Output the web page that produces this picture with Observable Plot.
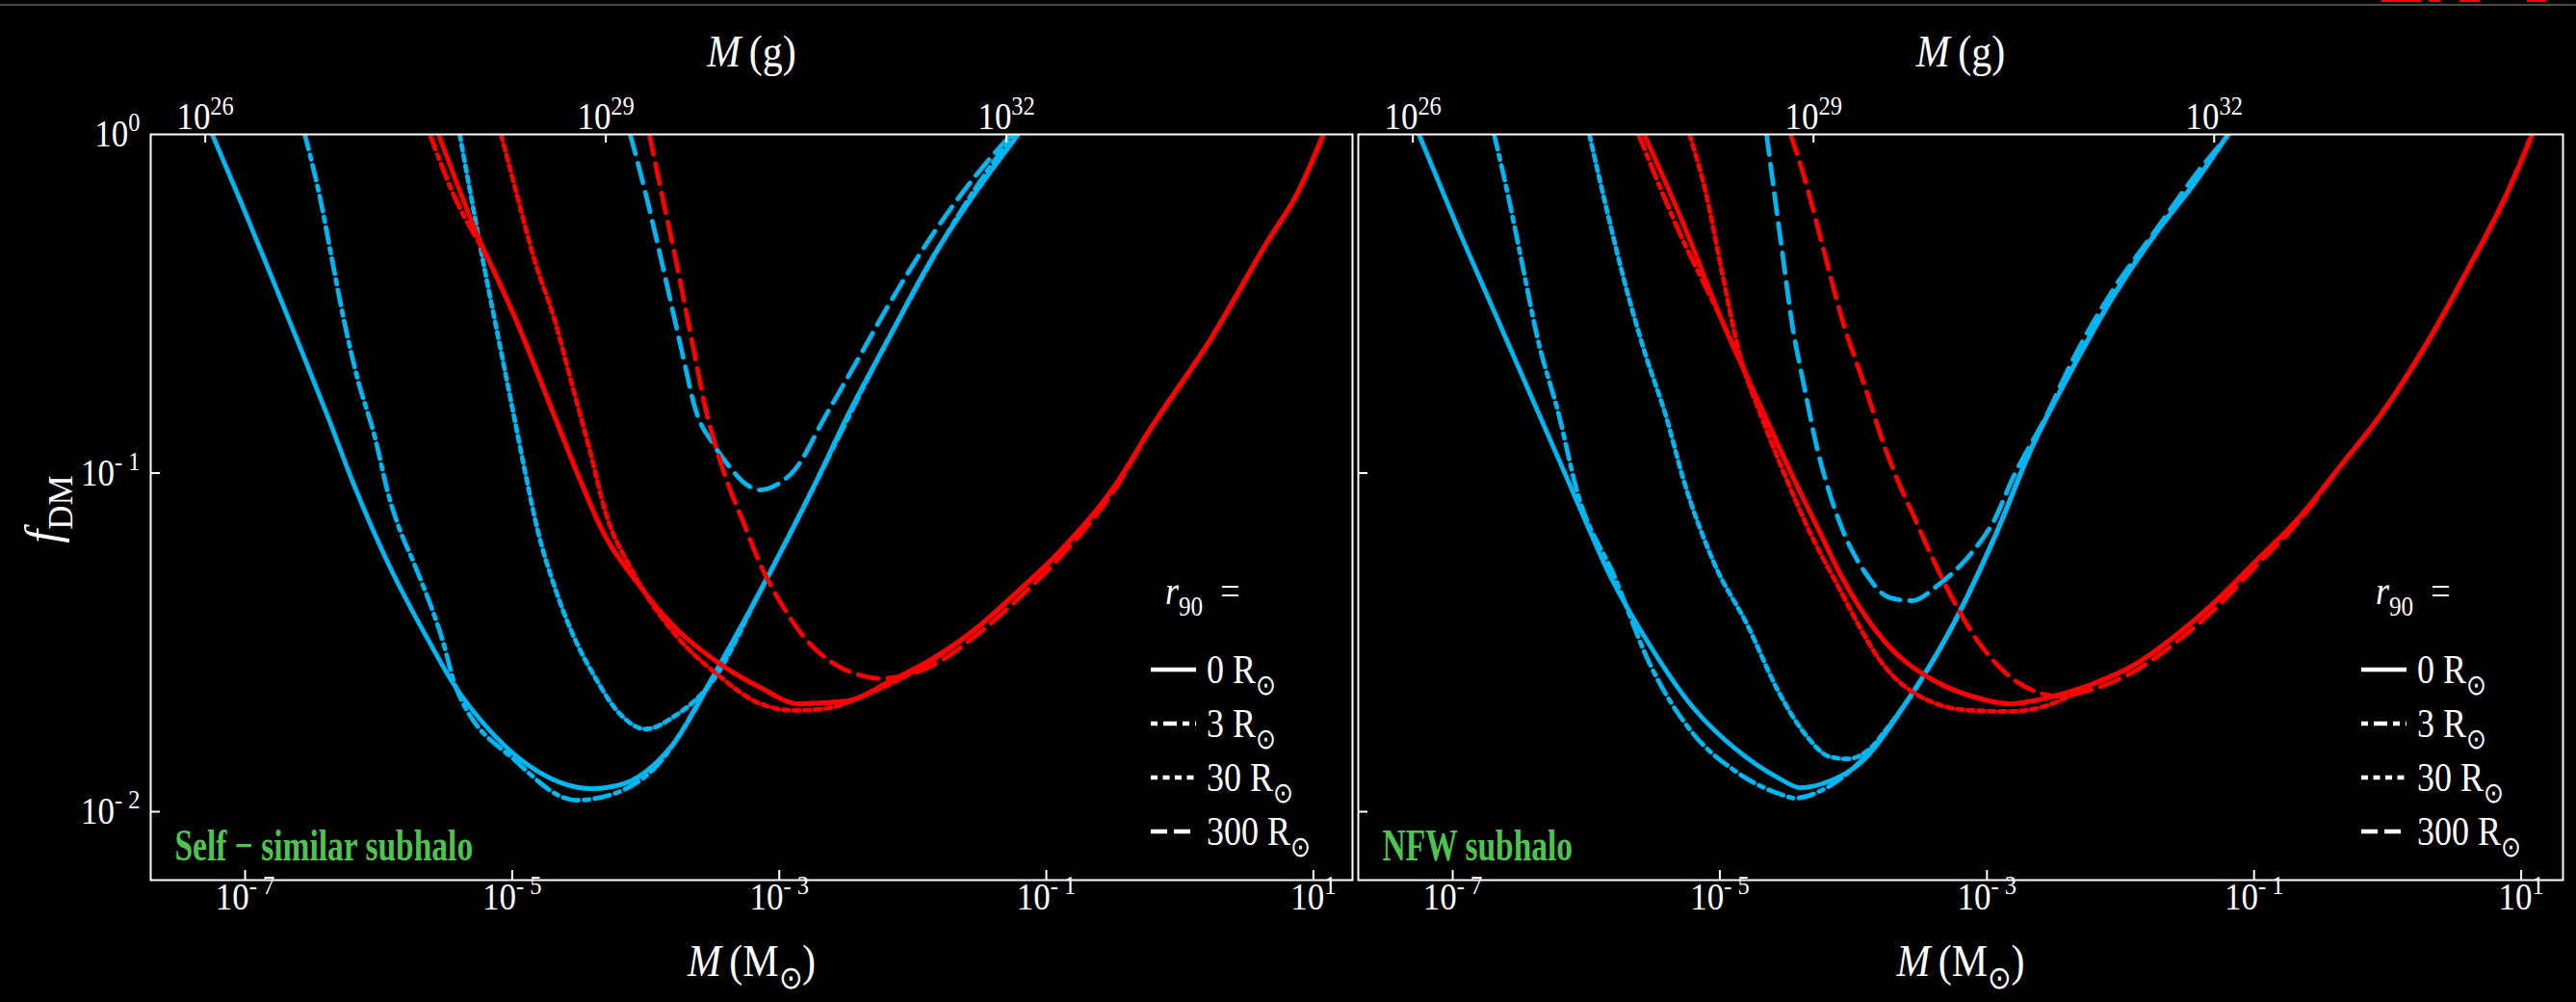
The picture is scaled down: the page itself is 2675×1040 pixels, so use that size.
<!DOCTYPE html>
<html><head><meta charset="utf-8">
<script src="https://cdn.jsdelivr.net/npm/d3@7"></script>
<script src="https://cdn.jsdelivr.net/npm/@observablehq/plot@0.6"></script>
<style>
html,body{margin:0;padding:0;background:#000;}
#wrap{position:relative;width:2675px;height:1040px;overflow:hidden;background:#000;}
#topline{position:absolute;left:0;top:4px;width:2675px;height:2px;background:#4a4a4a;}
.frag{position:absolute;top:0;height:2px;background:#ff0000;}
.panel{position:absolute;top:0;}
.panel svg{overflow:visible;}
</style></head>
<body><div id="wrap"><div id="topline"></div>
<div class="frag" style="left:2473px;width:41px"></div>
<div class="frag" style="left:2522px;width:12px"></div>
<div class="frag" style="left:2554px;width:21px"></div>
<div class="frag" style="left:2624px;width:20px"></div>
</div>
<script>
// ---------------- data (log10 M [Msun], log10 f_DM) ----------------
const MSUN_G = 1.989e33;
const xTicks = [1e-7, 1e-5, 1e-3, 1e-1, 1e1];
const xTickLabels = ["10^{- 7}", "10^{- 5}", "10^{- 3}", "10^{- 1}", "10^{1}"];
const gTicks = [1e26, 1e29, 1e32];
const gTickLabels = ["10^{26}", "10^{29}", "10^{32}"];
const yTicks = [1, 0.1, 0.01];
const yTickLabels = ["10^{0}", "10^{- 1}", "10^{- 2}"];
const rLabels = ["0", "3", "30", "300"];
const panelLabels = ["Self − similar subhalo", "NFW subhalo"];

// Self-similar subhalo
const ss_blue_0 = [[-7.246,0],[-7.029,-0.202],[-6.813,-0.410],[-6.597,-0.620],[-6.380,-0.834],[-6.193,-1.027],[-5.933,-1.263],[-5.616,-1.502],[-5.450,-1.616],[-5.133,-1.775],[-4.809,-1.881],[-4.405,-1.932],[-4.167,-1.918],[-3.936,-1.861],[-3.785,-1.795],[-3.460,-1.576],[-3.143,-1.349],[-2.725,-1.027],[-2.494,-0.836],[-2.177,-0.600],[-1.852,-0.364],[-1.535,-0.174],[-1.211,0]];
const ss_blue_3 = [[-6.553,0],[-6.431,-0.202],[-6.352,-0.364],[-6.258,-0.552],[-6.157,-0.723],[-6.034,-0.885],[-5.919,-1.075],[-5.840,-1.169],[-5.739,-1.263],[-5.515,-1.502],[-5.422,-1.633],[-4.967,-1.852],[-4.520,-1.966],[-4.232,-1.946],[-3.936,-1.872],[-3.460,-1.576],[-3.143,-1.349],[-2.725,-1.027],[-2.177,-0.600],[-1.535,-0.162],[-1.247,0]];
const ss_blue_30 = [[-5.393,0],[-5.299,-0.202],[-5.205,-0.401],[-5.104,-0.600],[-5.003,-0.799],[-4.902,-0.999],[-4.809,-1.169],[-4.679,-1.340],[-4.549,-1.474],[-4.390,-1.596],[-4.196,-1.710],[-4.001,-1.756],[-3.785,-1.718],[-3.496,-1.612],[-3.143,-1.349],[-2.725,-1.027],[-2.494,-0.836],[-2.177,-0.600],[-1.852,-0.364],[-1.535,-0.174],[-1.211,0]];
const ss_blue_300 = [[-4.116,0],[-4.001,-0.174],[-3.907,-0.330],[-3.785,-0.543],[-3.720,-0.657],[-3.626,-0.814],[-3.496,-0.913],[-3.395,-0.970],[-3.237,-1.036],[-3.143,-1.050],[-3.013,-1.033],[-2.883,-0.990],[-2.660,-0.836],[-2.429,-0.677],[-2.177,-0.501],[-1.852,-0.296],[-1.535,-0.125],[-1.261,0]];
const ss_red_0 = [[-5.551,0],[-5.292,-0.267],[-4.967,-0.552],[-4.679,-0.836],[-4.484,-1.027],[-4.326,-1.169],[-4.059,-1.326],[-3.785,-1.454],[-3.460,-1.559],[-3.143,-1.633],[-2.855,-1.681],[-2.494,-1.673],[-2.177,-1.616],[-1.852,-1.548],[-1.535,-1.462],[-1.211,-1.349],[-0.886,-1.226],[-0.468,-1.027],[-0.245,-0.885],[0.238,-0.600],[0.657,-0.316],[0.880,-0.174],[1.075,0]];
const ss_red_3 = [[-5.616,0],[-5.443,-0.174],[-5.133,-0.406],[-4.967,-0.552],[-4.679,-0.836],[-4.484,-1.027],[-4.326,-1.169],[-4.059,-1.326],[-3.785,-1.454],[-3.460,-1.559],[-3.143,-1.633],[-2.855,-1.681],[-2.494,-1.673],[-2.177,-1.616],[-1.852,-1.548],[-1.535,-1.462],[-1.211,-1.349],[-0.886,-1.226],[-0.468,-1.027],[-0.245,-0.885],[0.238,-0.600],[0.657,-0.316],[0.880,-0.174],[1.075,0]];
const ss_red_30 = [[-5.083,0],[-4.967,-0.174],[-4.838,-0.364],[-4.679,-0.552],[-4.549,-0.743],[-4.419,-0.933],[-4.297,-1.121],[-4.109,-1.283],[-3.785,-1.474],[-3.460,-1.596],[-3.143,-1.681],[-2.883,-1.701],[-2.660,-1.696],[-2.343,-1.653],[-1.852,-1.553],[-1.535,-1.462],[-1.211,-1.349],[-0.886,-1.226],[-0.468,-1.027],[-0.245,-0.885],[0.238,-0.600],[0.657,-0.316],[0.880,-0.174],[1.075,0]];
const ss_red_300 = [[-3.972,0],[-3.907,-0.125],[-3.842,-0.245],[-3.785,-0.350],[-3.713,-0.492],[-3.641,-0.634],[-3.561,-0.794],[-3.460,-0.942],[-3.367,-1.050],[-3.273,-1.141],[-3.143,-1.269],[-2.977,-1.391],[-2.819,-1.482],[-2.595,-1.562],[-2.400,-1.596],[-2.242,-1.607],[-2.112,-1.602],[-1.852,-1.568],[-1.535,-1.482],[-1.211,-1.371],[-0.886,-1.243],[-0.468,-1.036],[-0.245,-0.885],[0.238,-0.600],[0.657,-0.316],[0.880,-0.174],[1.075,0]];

// NFW subhalo
const nfw_blue_0 = [[-7.253,0],[-6.972,-0.267],[-6.654,-0.555],[-6.330,-0.848],[-6.157,-1.004],[-6.013,-1.135],[-5.847,-1.283],[-5.530,-1.505],[-5.205,-1.690],[-4.881,-1.815],[-4.563,-1.900],[-4.398,-1.929],[-4.239,-1.918],[-3.915,-1.844],[-3.597,-1.673],[-3.273,-1.462],[-2.927,-1.175],[-2.674,-0.933],[-2.364,-0.694],[-2.054,-0.478],[-1.744,-0.296],[-1.434,-0.137],[-1.196,0]];
const nfw_blue_3 = [[-6.690,0],[-6.589,-0.174],[-6.489,-0.364],[-6.366,-0.600],[-6.200,-0.836],[-6.078,-1.041],[-5.782,-1.312],[-5.530,-1.559],[-5.205,-1.767],[-4.881,-1.881],[-4.563,-1.946],[-4.434,-1.960],[-4.239,-1.937],[-3.915,-1.838],[-3.597,-1.673],[-3.273,-1.462],[-2.927,-1.175],[-2.674,-0.933],[-2.364,-0.694],[-2.054,-0.478],[-1.744,-0.296],[-1.434,-0.137],[-1.196,0]];
const nfw_blue_30 = [[-5.977,0],[-5.847,-0.222],[-5.717,-0.430],[-5.558,-0.649],[-5.400,-0.836],[-5.277,-1.013],[-5.046,-1.263],[-4.787,-1.454],[-4.563,-1.644],[-4.369,-1.767],[-4.174,-1.838],[-4.044,-1.844],[-3.850,-1.804],[-3.756,-1.758],[-3.597,-1.673],[-3.273,-1.462],[-2.927,-1.175],[-2.674,-0.933],[-2.364,-0.694],[-2.054,-0.478],[-1.744,-0.296],[-1.434,-0.137],[-1.196,0]];
const nfw_blue_300 = [[-4.650,0],[-4.592,-0.174],[-4.527,-0.364],[-4.462,-0.552],[-4.369,-0.743],[-4.268,-0.933],[-4.203,-1.027],[-4.080,-1.169],[-3.915,-1.292],[-3.727,-1.368],[-3.561,-1.377],[-3.367,-1.331],[-3.114,-1.235],[-2.948,-1.141],[-2.804,-1.013],[-2.552,-0.828],[-2.364,-0.671],[-2.054,-0.458],[-1.744,-0.287],[-1.434,-0.117],[-1.189,0]];
const nfw_red_0 = [[-5.566,0],[-5.270,-0.267],[-4.982,-0.552],[-4.657,-0.836],[-4.434,-1.027],[-4.268,-1.161],[-4.080,-1.312],[-3.756,-1.502],[-3.431,-1.605],[-3.114,-1.659],[-2.833,-1.681],[-2.523,-1.661],[-2.213,-1.624],[-1.903,-1.568],[-1.593,-1.482],[-1.283,-1.377],[-0.973,-1.255],[-0.663,-1.132],[-0.353,-0.979],[-0.035,-0.819],[0.275,-0.629],[0.585,-0.410],[0.894,-0.174],[1.082,0]];
const nfw_red_3 = [[-5.609,0],[-5.328,-0.267],[-4.982,-0.552],[-4.657,-0.836],[-4.434,-1.027],[-4.268,-1.161],[-4.080,-1.312],[-3.756,-1.502],[-3.431,-1.605],[-3.114,-1.659],[-2.833,-1.681],[-2.523,-1.661],[-2.213,-1.624],[-1.903,-1.568],[-1.593,-1.482],[-1.283,-1.377],[-0.973,-1.255],[-0.663,-1.132],[-0.353,-0.979],[-0.035,-0.819],[0.275,-0.629],[0.585,-0.410],[0.894,-0.174],[1.082,0]];
const nfw_red_30 = [[-5.227,0],[-5.104,-0.174],[-4.982,-0.410],[-4.852,-0.649],[-4.686,-0.836],[-4.491,-1.027],[-4.333,-1.169],[-4.145,-1.312],[-3.756,-1.576],[-3.431,-1.673],[-3.114,-1.701],[-2.833,-1.704],[-2.581,-1.690],[-2.299,-1.642],[-2.213,-1.624],[-1.903,-1.568],[-1.593,-1.482],[-1.283,-1.377],[-0.973,-1.255],[-0.663,-1.132],[-0.353,-0.979],[-0.035,-0.819],[0.275,-0.629],[0.585,-0.410],[0.894,-0.174],[1.082,0]];
const nfw_red_300 = [[-4.470,0],[-4.369,-0.125],[-4.239,-0.316],[-4.080,-0.552],[-3.915,-0.743],[-3.756,-0.933],[-3.662,-1.027],[-3.532,-1.141],[-3.453,-1.212],[-3.273,-1.360],[-3.078,-1.491],[-2.883,-1.582],[-2.646,-1.644],[-2.458,-1.659],[-2.213,-1.639],[-1.903,-1.587],[-1.593,-1.502],[-1.283,-1.397],[-0.973,-1.269],[-0.663,-1.141],[-0.353,-0.979],[-0.035,-0.819],[0.275,-0.629],[0.585,-0.410],[0.894,-0.174],[1.082,0]];

// ---------------- styling ----------------
const BLUE = "#00B6F0", RED = "#FF0000", GREEN = "#4FC24F";
const FONT = "Liberation Serif, Times New Roman, serif";
const DASH = {"0": null, "3": "16,6,5,6", "30": "6,5", "300": "21,10"};
const LEG_DASH = {"0": null, "3": "7,6,14,6", "30": "7,5.5", "300": "17,7"};
const H = 1040, MT = 139, MB = 127;
const STRETCH = {"35": 1.12, "42": 1.12, "33.5": 1.36};

function rich(el) {
  const s = el.textContent;
  if (!/[\^_*]\{/.test(s)) return;
  const re = /([\^_*])\{([^}]*)\}/g;
  const parts = []; let last = 0, m;
  while ((m = re.exec(s))) {
    if (m.index > last) parts.push({k: "", t: s.slice(last, m.index)});
    parts.push({k: m[1], t: m[2]});
    last = re.lastIndex;
  }
  if (last < s.length) parts.push({k: "", t: s.slice(last)});
  while (el.firstChild) el.removeChild(el.firstChild);
  let shift = 0;
  for (const p of parts) {
    const ts = document.createElementNS("http://www.w3.org/2000/svg", "tspan");
    const small = p.k === "^" || p.k === "_";
    const size = small ? 0.7 : 1;
    const target = p.k === "^" ? -0.40 : p.k === "_" ? 0.28 : 0;
    if (target !== shift) ts.setAttribute("dy", ((target - shift) / size).toFixed(3) + "em");
    shift = target;
    if (small) ts.setAttribute("font-size", "70%");
    if (p.k === "*") ts.setAttribute("font-style", "italic");
    ts.textContent = p.t;
    el.appendChild(ts);
  }
}

function panel(curves, {width, marginLeft, marginRight, xmaxLog, label, showY}) {
  const plotH = H - MT - MB;
  const plotW = width - marginLeft - marginRight;
  const marks = [];
  for (const c of curves) {
    marks.push(Plot.line(c.pts, {x: p => 10 ** p[0], y: p => 10 ** p[1], stroke: c.color, strokeWidth: 4.8,
      strokeDasharray: DASH[c.r], curve: "monotone-x", clip: true}));
  }
  const txt = {fill: "white", fontFamily: FONT};
  marks.push(
    Plot.ruleX(xTicks, {x: d => d, insetTop: plotH - 10, stroke: "white", strokeWidth: 2}),
    Plot.ruleX(gTicks.map(g => g / MSUN_G), {x: d => d, insetBottom: plotH - 9, stroke: "white", strokeWidth: 2}),
    Plot.ruleY(yTicks.slice(1), {y: d => d, insetRight: plotW - 10, stroke: "white", strokeWidth: 2}),
    Plot.text(xTicks, {x: d => d, frameAnchor: "bottom", dy: 30, text: (d, i) => xTickLabels[i], fontSize: 35, ...txt}),
    Plot.text(gTicks.map(g => g / MSUN_G), {x: d => d, frameAnchor: "top", dy: -33, text: (d, i) => gTickLabels[i], fontSize: 35, ...txt}),
    Plot.text(["*{M}\u2009(M_{⊙})"], {frameAnchor: "bottom", dy: 99, text: d => d, fontSize: 42, ...txt}),
    Plot.text(["*{M}\u2009(g)"], {frameAnchor: "top", dy: -104, text: d => d, fontSize: 42, ...txt}),
    Plot.text([label], {frameAnchor: "bottom-left", dx: 25, dy: -21, textAnchor: "start", lineAnchor: "bottom", text: d => d,
      fill: GREEN, fontWeight: "bold", fontSize: 33.5, fontFamily: FONT})
  );
  if (showY) {
    marks.push(
      Plot.text(yTicks, {y: d => d, frameAnchor: "left", dx: -11, textAnchor: "end", text: (d, i) => yTickLabels[i], fontSize: 35, ...txt}),
      Plot.text(["*{f}_{DM}"], {frameAnchor: "left", dx: -112, dy: 2, rotate: -90, textAnchor: "middle", text: d => d, fontSize: 50, ...txt})
    );
  }
  marks.push(Plot.frame({stroke: "white", strokeWidth: 2}));
  const svg = Plot.plot({
    width, height: H, marginLeft, marginRight, marginTop: MT, marginBottom: MB,
    style: {background: "transparent", color: "white", overflow: "visible"},
    x: {type: "log", domain: [10 ** -7.707, 10 ** xmaxLog], axis: null},
    y: {type: "log", domain: [10 ** -2.202, 1], axis: null},
    marks
  });
  svg.querySelectorAll("text").forEach(t => {
    rich(t);
    const fs = t.parentNode.getAttribute("font-size");
    const sy = STRETCH[fs];
    if (sy) t.setAttribute("transform", (t.getAttribute("transform") || "") + ` scale(1,${sy})`);
  });
  return svg;
}

function legend(R) {
  const L = R - 230, T = 580;
  const svg = d3.create("svg").attr("width", 260).attr("height", 320)
    .style("position", "absolute").style("left", L + "px").style("top", T + "px").style("overflow", "visible");
  svg.append("text").attr("transform", "translate(36,47) scale(1,1.2)").attr("fill", "white").attr("font-family", FONT)
    .attr("font-size", 36).text("*{r}_{90}\u2002=");
  const ys = [115, 171, 227, 283];
  rLabels.forEach((r, i) => {
    svg.append("line").attr("x1", 21).attr("x2", 68).attr("y1", ys[i]).attr("y2", ys[i])
      .attr("stroke", "white").attr("stroke-width", 4.5).attr("stroke-dasharray", LEG_DASH[r]);
    svg.append("text").attr("transform", `translate(79,${ys[i] + 14}) scale(1,1.2)`).attr("fill", "white").attr("font-family", FONT)
      .attr("font-size", 36).text(r + " R_{⊙}");
  });
  svg.selectAll("text").each(function() { rich(this); });
  return svg.node();
}

const ssCurves = [
  {pts: ss_blue_0, color: BLUE, r: "0"}, {pts: ss_blue_3, color: BLUE, r: "3"},
  {pts: ss_blue_30, color: BLUE, r: "30"}, {pts: ss_blue_300, color: BLUE, r: "300"},
  {pts: ss_red_0, color: RED, r: "0"}, {pts: ss_red_3, color: RED, r: "3"},
  {pts: ss_red_30, color: RED, r: "30"}, {pts: ss_red_300, color: RED, r: "300"}
];
const nfwCurves = [
  {pts: nfw_blue_0, color: BLUE, r: "0"}, {pts: nfw_blue_3, color: BLUE, r: "3"},
  {pts: nfw_blue_30, color: BLUE, r: "30"}, {pts: nfw_blue_300, color: BLUE, r: "300"},
  {pts: nfw_red_0, color: RED, r: "0"}, {pts: nfw_red_3, color: RED, r: "3"},
  {pts: nfw_red_30, color: RED, r: "30"}, {pts: nfw_red_300, color: RED, r: "300"}
];

const wrap = document.getElementById("wrap");
const d1 = document.createElement("div"); d1.className = "panel"; d1.style.left = "0px";
d1.appendChild(panel(ssCurves, {width: 1407, marginLeft: 156, marginRight: 3, xmaxLog: 1.293, label: panelLabels[0], showY: true}));
wrap.appendChild(d1);
const d2 = document.createElement("div"); d2.className = "panel"; d2.style.left = "1407px";
d2.appendChild(panel(nfwCurves, {width: 1268, marginLeft: 3, marginRight: 14, xmaxLog: 1.313, label: panelLabels[1], showY: false}));
wrap.appendChild(d2);
wrap.appendChild(legend(1404));
wrap.appendChild(legend(2661));
</script></body></html>
